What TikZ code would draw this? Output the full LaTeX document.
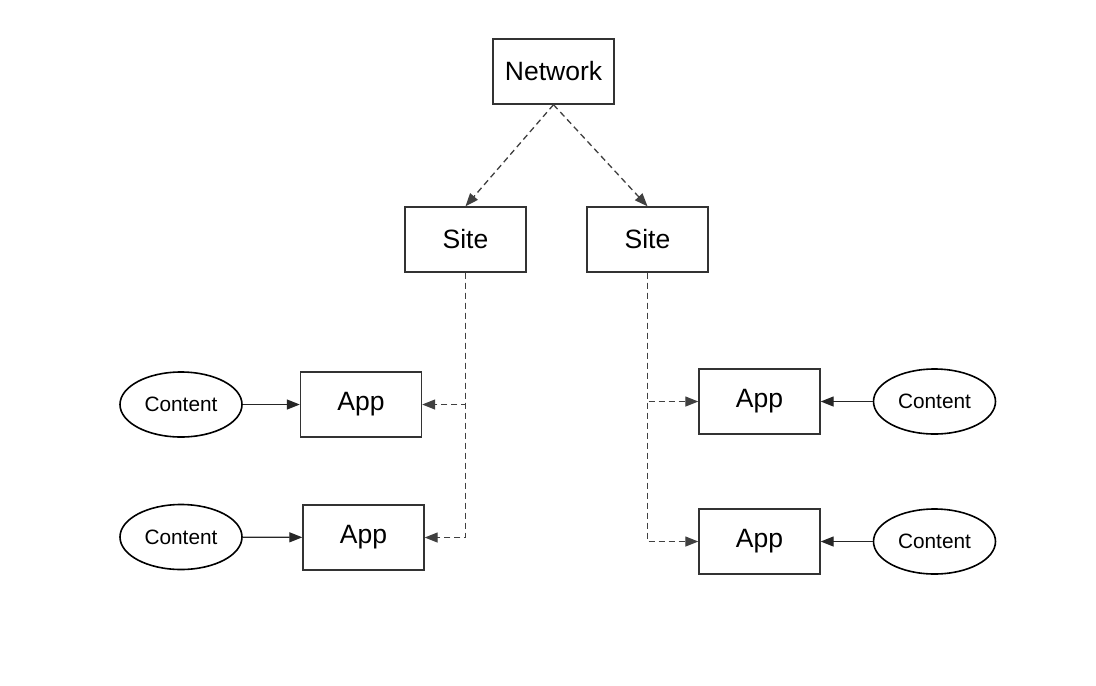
\documentclass[tikz,border=0pt]{standalone}
\usepackage{fontspec}
\setmainfont{Liberation Sans}
\usetikzlibrary{arrows.meta,shapes.geometric}
\begin{document}
\begin{tikzpicture}[x=1pt,y=-1pt,
  boxnode/.style={draw=black!80,line width=1.4pt,minimum width=121pt,minimum height=65pt,inner sep=0pt,font=\fontsize{26.5}{30}\selectfont},
  contnode/.style={draw=black,line width=1.6pt,ellipse,minimum width=122pt,minimum height=65pt,inner sep=0pt,font=\fontsize{20.8}{24}\selectfont},
  tip/.style={-{Triangle[length=13pt,width=10pt]}},
  dashlink/.style={tip,dash pattern=on 6pt off 4pt,line width=1.3pt,draw=black!75},
  solidlink/.style={tip,line width=1.3pt,draw=black!85}]
\useasboundingbox[fill=white] (0,0) rectangle (1096,686);
\node[boxnode] (net) at (553.5,71.5) {Network};
\node[boxnode] (siteL) at (465.5,239.5) {Site};
\node[boxnode] (siteR) at (647.5,239.5) {Site};
\node[boxnode] (appL1) at (361,404.5) {App};
\node[boxnode] (appL2) at (363.5,537.5) {App};
\node[boxnode] (appR1) at (759.5,401.5) {App};
\node[boxnode] (appR2) at (759.5,541.5) {App};
\node[contnode] (cL1) at (181,404.5) {Content};
\node[contnode] (cL2) at (181,537) {Content};
\node[contnode] (cR1) at (934.5,401.5) {Content};
\node[contnode] (cR2) at (934.5,541.5) {Content};
\draw[dashlink] (net.south) -- (siteL.north);
\draw[dashlink] (net.south) -- (siteR.north);
\draw[dashlink] (siteL.south) |- (appL1.east);
\draw[dashlink] (siteL.south) |- (appL2.east);
\draw[dashlink] (siteR.south) |- (appR1.west);
\draw[dashlink] (siteR.south) |- (appR2.west);
\draw[solidlink] (cL1) -- (appL1);
\draw[solidlink] (cL2) -- (appL2);
\draw[solidlink] (cR1) -- (appR1);
\draw[solidlink] (cR2) -- (appR2);
\end{tikzpicture}
\end{document}
